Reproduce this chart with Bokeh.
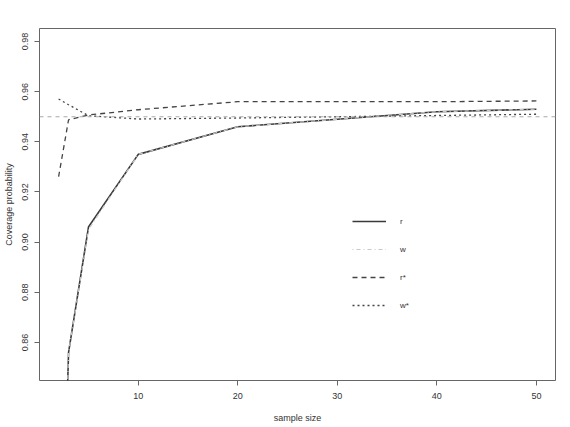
from bokeh.plotting import figure
from bokeh.models import Range1d, FixedTicker, Span, Legend, LegendItem
from bokeh.embed import file_html
from bokeh.resources import INLINE

# data
n = [2, 3, 5, 10, 20, 30, 40, 50]
r = [0.720, 0.856, 0.906, 0.935, 0.946, 0.949, 0.952, 0.953]
w = [0.721, 0.856, 0.905, 0.935, 0.946, 0.949, 0.952, 0.953]
r_star = [0.9261, 0.9488, 0.9507, 0.9528, 0.9560, 0.9560, 0.9560, 0.9563]
w_star = [0.9571, 0.9548, 0.9504, 0.9491, 0.9495, 0.9500, 0.9505, 0.9510]
nominal = 0.95
x_ticks = [10, 20, 30, 40, 50]
y_ticks = [0.86, 0.88, 0.90, 0.92, 0.94, 0.96, 0.98]
labels = ["r", "w", "r*", "w*"]

FONT = "Liberation Sans"
DARK = "#333333"
AXC = "#666666"

p = figure(width=570, height=427, output_backend="svg", toolbar_location=None,
           x_range=Range1d(0.08, 51.92), y_range=Range1d(0.8448, 0.9852),
           min_border_left=39, min_border_right=15, min_border_top=28, min_border_bottom=47)
p.background_fill_color = "white"
p.border_fill_color = "white"
p.outline_line_color = AXC
p.outline_line_width = 1
p.grid.visible = False

for ax in (p.xaxis[0], p.yaxis[0]):
    ax.axis_line_color = None
    ax.major_tick_line_color = AXC
    ax.major_tick_out = 5
    ax.major_tick_in = 0
    ax.minor_tick_line_color = None
    ax.major_label_text_font = FONT
    ax.major_label_text_font_size = "9px"
    ax.major_label_text_color = DARK
    ax.axis_label_text_font = FONT
    ax.axis_label_text_font_size = "9px"
    ax.axis_label_text_font_style = "normal"
    ax.axis_label_text_color = DARK

p.xaxis.ticker = FixedTicker(ticks=x_ticks)
p.yaxis.ticker = FixedTicker(ticks=y_ticks)
p.yaxis.major_label_overrides = {t: f"{t:.2f}" for t in y_ticks}
p.yaxis.major_label_orientation = "vertical"
p.xaxis.axis_label = "sample size"
p.yaxis.axis_label = "Coverage probability"
p.xaxis.major_label_standoff = 7
p.xaxis.axis_label_standoff = 11
p.yaxis.major_label_standoff = 6
p.yaxis.axis_label_standoff = 6

p.add_layout(Span(location=nominal, dimension="width", line_color="#aaaaaa",
                  line_dash="4 4", line_width=1))

l1 = p.line(n, r, line_color="#3a3a3a", line_width=1.6)
l2 = p.line(n, w, line_color="#c8c8c8", line_width=1.2, line_dash="1 3 4 3")
l3 = p.line(n, r_star, line_color="#444444", line_width=1.3, line_dash="5 4")
l4 = p.line(n, w_star, line_color="#444444", line_width=1.3, line_dash="2 3")

legend = Legend(items=[LegendItem(label=labels[i], renderers=[rr])
                       for i, rr in enumerate([l1, l2, l3, l4])],
                location=(313, 65), padding=0, margin=0,
                glyph_width=34, glyph_height=20, spacing=8, label_standoff=14,
                label_text_font=FONT, label_text_font_size="8px",
                label_text_color=DARK, background_fill_alpha=0,
                border_line_color=None)
p.add_layout(legend)

open("out.html", "w").write(file_html(p, INLINE))
